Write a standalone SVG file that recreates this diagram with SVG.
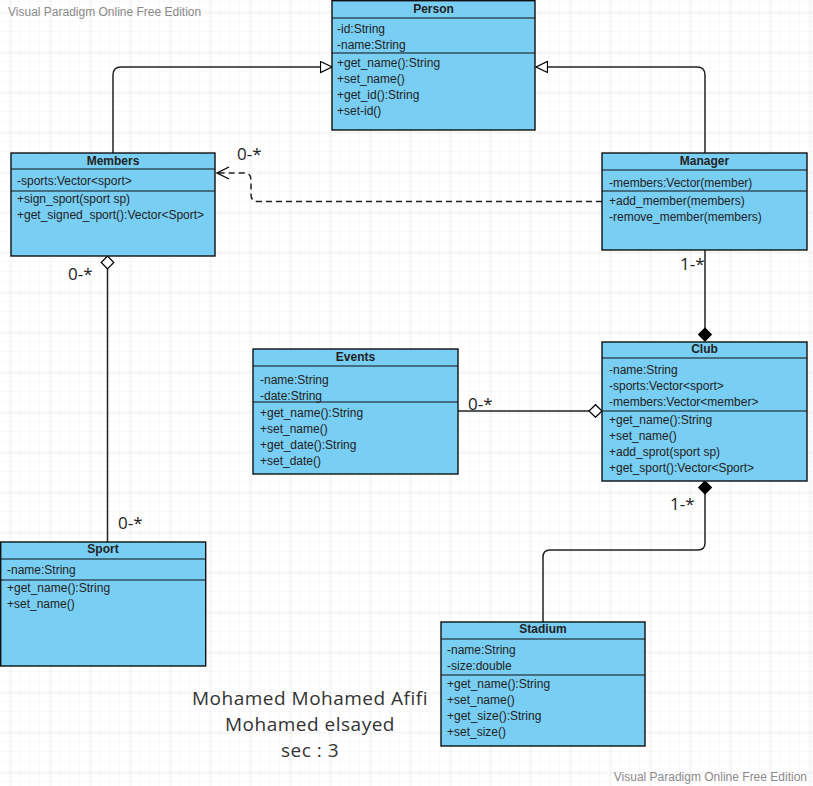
<svg xmlns="http://www.w3.org/2000/svg" width="813" height="786" viewBox="0 0 813 786">
<defs>
<pattern id="minor" width="10" height="10" patternUnits="userSpaceOnUse" x="0" y="2">
<path d="M10,0 V10 M0,10 H10" fill="none" stroke="#f2f2f2" stroke-width="1"/>
</pattern>
<pattern id="major" width="40" height="40" patternUnits="userSpaceOnUse" x="10.5" y="12.5">
<path d="M0,0 V40 M0,0 H40" fill="none" stroke="#e2e2e2" stroke-width="1"/>
</pattern>
<marker id="tri" markerWidth="14" markerHeight="14" refX="12" refY="6" orient="auto" markerUnits="userSpaceOnUse">
<path d="M0.5,0.5 L12,6 L0.5,11.5 z" fill="#fff" stroke="#000" stroke-width="1.2"/>
</marker>
<marker id="open" markerWidth="16" markerHeight="14" refX="13" refY="7" orient="auto" markerUnits="userSpaceOnUse">
<path d="M1,1 L13,7 L1,13" fill="none" stroke="#000" stroke-width="1.3"/>
</marker>
<marker id="hdia" markerWidth="16" markerHeight="16" refX="0.5" refY="7" orient="auto" markerUnits="userSpaceOnUse">
<path d="M0.5,7 L7,0.7 L13.5,7 L7,13.3 z" fill="#fff" stroke="#000" stroke-width="1.2"/>
</marker>
<marker id="fdia" markerWidth="16" markerHeight="16" refX="0.5" refY="7" orient="auto" markerUnits="userSpaceOnUse">
<path d="M0.5,7 L7,0.7 L13.5,7 L7,13.3 z" fill="#000" stroke="#000" stroke-width="1.2"/>
</marker>
</defs>
<style>
.box{fill:#79cef4;stroke:#111;stroke-width:1.4}
.sep{stroke:#111;stroke-width:1.2}
.t{font-family:"Liberation Sans",Arial,sans-serif;font-size:12px;fill:#222}
.h{font-family:"Liberation Sans",Arial,sans-serif;font-size:12px;font-weight:bold;fill:#222;text-anchor:middle}
.c{fill:none;stroke:#222;stroke-width:1.5}
.lbl{font-family:"Open Sans","Liberation Sans",sans-serif;font-size:17px;fill:#222}
.wm{font-family:"Liberation Sans",Arial,sans-serif;font-size:12px;fill:#8a8a8a}
.big{font-family:"Open Sans","Liberation Sans",sans-serif;font-size:19px;fill:#333;text-anchor:middle}
</style>
<rect width="813" height="786" fill="#fff"/>
<rect width="813" height="786" fill="url(#minor)"/>
<rect width="813" height="786" fill="url(#major)"/>
<text class="wm" x="8" y="16">Visual Paradigm Online Free Edition</text>
<text class="wm" x="807" y="781" text-anchor="end">Visual Paradigm Online Free Edition</text>

<g id="connectors">
<path class="c" d="M113,153 V75 Q113,67 121,67 H332" marker-end="url(#tri)"/>
<path class="c" d="M705,153 V75 Q705,67 697,67 H536" marker-end="url(#tri)"/>
<path class="c" d="M602,201.5 H258 Q251,201.5 251,194.5 V180 Q251,173 244,173 H217" stroke-dasharray="6,4" stroke-width="1.3" marker-end="url(#open)"/>
<path class="c" d="M107.5,256 V542" marker-start="url(#hdia)"/>
<path class="c" d="M705,341 V250" marker-start="url(#fdia)"/>
<path class="c" d="M602,411 H458" marker-start="url(#hdia)"/>
<path class="c" d="M705,481 V543 Q705,550 698,550 H550 Q543,550 543,557 V622" marker-start="url(#fdia)"/>
<text class="lbl" x="237" y="160">0-*</text>
<text class="lbl" x="68" y="280">0-*</text>
<text class="lbl" x="118" y="529">0-*</text>
<text class="lbl" x="468" y="410">0-*</text>
<text class="lbl" x="680" y="270">1-*</text>
<text class="lbl" x="670" y="510">1-*</text>
</g>

<g id="Person">
<rect class="box" x="332" y="0.7" width="203" height="129.3"/>
<line class="sep" x1="332" y1="18" x2="535" y2="18"/>
<line class="sep" x1="332" y1="53" x2="535" y2="53"/>
<text class="h" x="433.5" y="13">Person</text>
<text class="t" x="337" y="33">-id:String</text>
<text class="t" x="337" y="49">-name:String</text>
<text class="t" x="337" y="67">+get_name():String</text>
<text class="t" x="337" y="83">+set_name()</text>
<text class="t" x="337" y="99">+get_id():String</text>
<text class="t" x="337" y="115">+set-id()</text>
</g>

<g id="Members">
<rect class="box" x="11" y="153" width="204" height="103"/>
<line class="sep" x1="11" y1="169" x2="215" y2="169"/>
<line class="sep" x1="11" y1="191" x2="215" y2="191"/>
<text class="h" x="113" y="165">Members</text>
<text class="t" x="17" y="185">-sports:Vector&lt;sport&gt;</text>
<text class="t" x="17" y="203">+sign_sport(sport sp)</text>
<text class="t" x="17" y="219">+get_signed_sport():Vector&lt;Sport&gt;</text>
</g>

<g id="Manager">
<rect class="box" x="602" y="153" width="205" height="97"/>
<line class="sep" x1="602" y1="170" x2="807" y2="170"/>
<line class="sep" x1="602" y1="191" x2="807" y2="191"/>
<text class="h" x="704.5" y="165">Manager</text>
<text class="t" x="609" y="187">-members:Vector(member)</text>
<text class="t" x="609" y="205">+add_member(members)</text>
<text class="t" x="609" y="221">-remove_member(members)</text>
</g>

<g id="Events">
<rect class="box" x="253" y="349" width="205" height="125"/>
<line class="sep" x1="253" y1="366" x2="458" y2="366"/>
<line class="sep" x1="253" y1="402" x2="458" y2="402"/>
<text class="h" x="355.5" y="361">Events</text>
<text class="t" x="260" y="384">-name:String</text>
<text class="t" x="260" y="400">-date:String</text>
<text class="t" x="260" y="417">+get_name():String</text>
<text class="t" x="260" y="433">+set_name()</text>
<text class="t" x="260" y="449">+get_date():String</text>
<text class="t" x="260" y="465">+set_date()</text>
</g>

<g id="Club">
<rect class="box" x="602" y="342" width="205" height="139"/>
<line class="sep" x1="602" y1="358" x2="807" y2="358"/>
<line class="sep" x1="602" y1="411" x2="807" y2="411"/>
<text class="h" x="704.5" y="353">Club</text>
<text class="t" x="609" y="374">-name:String</text>
<text class="t" x="609" y="390">-sports:Vector&lt;sport&gt;</text>
<text class="t" x="609" y="406">-members:Vector&lt;member&gt;</text>
<text class="t" x="609" y="424">+get_name():String</text>
<text class="t" x="609" y="440">+set_name()</text>
<text class="t" x="609" y="456">+add_sprot(sport sp)</text>
<text class="t" x="609" y="472">+get_sport():Vector&lt;Sport&gt;</text>
</g>

<g id="Sport">
<rect class="box" x="0.7" y="542" width="205" height="124"/>
<line class="sep" x1="0" y1="559" x2="206" y2="559"/>
<line class="sep" x1="0" y1="580" x2="206" y2="580"/>
<text class="h" x="103" y="553">Sport</text>
<text class="t" x="7" y="574">-name:String</text>
<text class="t" x="7" y="592">+get_name():String</text>
<text class="t" x="7" y="608">+set_name()</text>
</g>

<g id="Stadium">
<rect class="box" x="441" y="622" width="204" height="124"/>
<line class="sep" x1="441" y1="639" x2="645" y2="639"/>
<line class="sep" x1="441" y1="675" x2="645" y2="675"/>
<text class="h" x="543" y="633">Stadium</text>
<text class="t" x="447" y="654">-name:String</text>
<text class="t" x="447" y="670">-size:double</text>
<text class="t" x="447" y="688">+get_name():String</text>
<text class="t" x="447" y="704">+set_name()</text>
<text class="t" x="447" y="720">+get_size():String</text>
<text class="t" x="447" y="736">+set_size()</text>
</g>

<g id="caption">
<text class="big" x="310" y="705" letter-spacing="0.5">Mohamed Mohamed Afifi</text>
<text class="big" x="310" y="731" letter-spacing="0.5">Mohamed elsayed</text>
<text class="big" x="310" y="757" letter-spacing="0.5">sec : 3</text>
</g>
</svg>
